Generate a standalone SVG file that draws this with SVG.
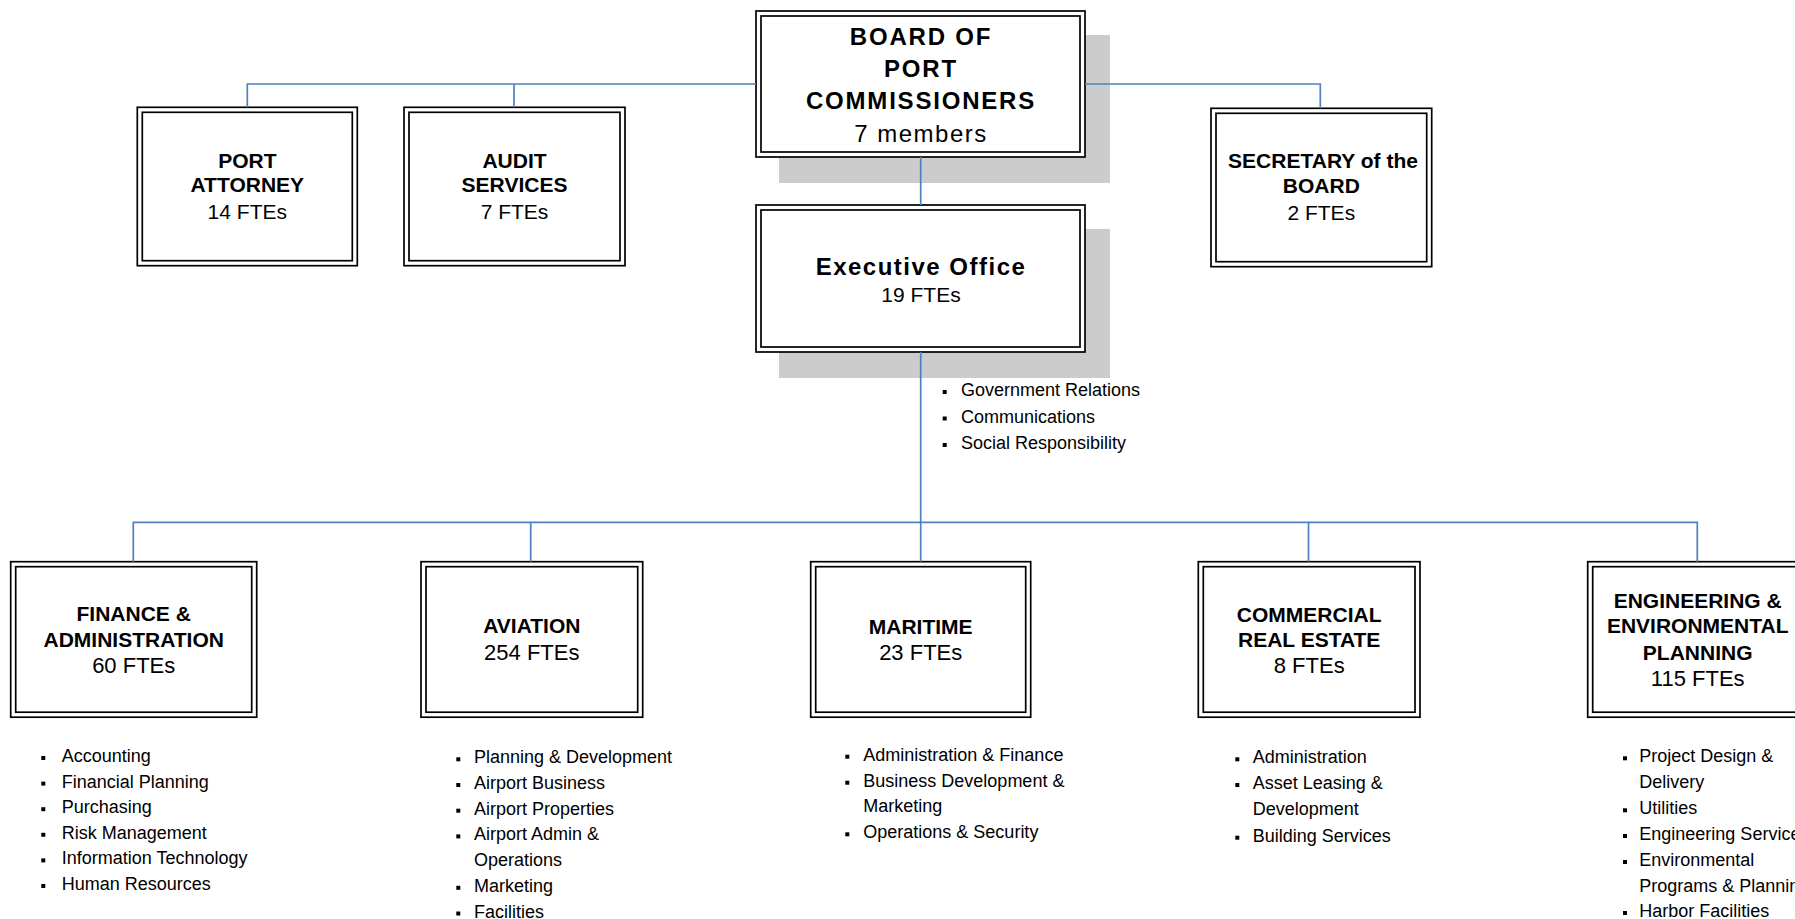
<svg xmlns="http://www.w3.org/2000/svg" width="1795" height="919" viewBox="0 0 1795 919">
<style>
.sh{fill:#cccccc}
.o{fill:#ffffff;stroke:#000;stroke-width:1.7}
.i{fill:none;stroke:#000;stroke-width:1.7}
.c{fill:none;stroke:#4f81bd;stroke-width:1.7}
text{font-family:"Liberation Sans",Arial,sans-serif;fill:#000}
.t{font-weight:bold;font-size:21px;text-anchor:middle}
.f{font-size:21px;text-anchor:middle}
.f2{font-size:22px;text-anchor:middle}
.bt{font-weight:bold;font-size:24px;text-anchor:middle;letter-spacing:1.8px}
.bf{font-size:24px;text-anchor:middle;letter-spacing:1.5px}
.l{font-size:18px}
.d{fill:#000}
</style>
<defs>
<rect id="dot" width="4" height="4" class="d"/>
</defs>
<g id="board">
<rect class="sh" x="779" y="35" width="331" height="148"/>
<rect class="o" x="756" y="11" width="329" height="146"/>
<rect class="i" x="761" y="16" width="319" height="136"/>
<text class="bt" x="921" y="45">BOARD OF</text>
<text class="bt" x="921" y="77">PORT</text>
<text class="bt" x="921" y="109">COMMISSIONERS</text>
<text class="bf" x="921" y="142">7 members</text>
</g>
<g id="executive">
<rect class="sh" x="779" y="229" width="331" height="149"/>
<rect class="o" x="756" y="205" width="329" height="147"/>
<rect class="i" x="761" y="210" width="319" height="137"/>
<text class="bt" x="921" y="275" style="letter-spacing:1.5px">Executive Office</text>
<text class="f" x="921" y="302">19 FTEs</text>
<use href="#dot" x="942.7" y="390"/>
<use href="#dot" x="942.7" y="416.5"/>
<use href="#dot" x="942.7" y="443"/>
<text class="l" x="961" y="396">Government Relations</text>
<text class="l" x="961" y="422.5">Communications</text>
<text class="l" x="961" y="449">Social Responsibility</text>
</g>
<g id="attorney">
<rect class="o" x="137.3" y="107.3" width="220" height="158.4"/>
<rect class="i" x="142.3" y="112.3" width="210" height="148.4"/>
<text class="t" x="247.3" y="167.7">PORT</text>
<text class="t" x="247.3" y="191.7">ATTORNEY</text>
<text class="f" x="247.3" y="219.3">14 FTEs</text>
</g>
<g id="audit">
<rect class="o" x="404" y="107.3" width="221" height="158.4"/>
<rect class="i" x="409" y="112.3" width="211" height="148.4"/>
<text class="t" x="514.5" y="167.7">AUDIT</text>
<text class="t" x="514.5" y="191.7">SERVICES</text>
<text class="f" x="514.5" y="219.3">7 FTEs</text>
</g>
<g id="secretary">
<rect class="o" x="1211" y="108.3" width="220.7" height="158.4"/>
<rect class="i" x="1216" y="113.3" width="210.7" height="148.4"/>
<text class="t" x="1323" y="168.3">SECRETARY of the</text>
<text class="t" x="1321.3" y="192.7">BOARD</text>
<text class="f" x="1321.3" y="220">2 FTEs</text>
</g>
<g id="finance">
<rect class="o" x="10.7" y="561.7" width="246" height="155.5"/>
<rect class="i" x="15.7" y="566.7" width="236" height="145.5"/>
<text class="t" x="133.7" y="620.7">FINANCE &amp;</text>
<text class="t" x="133.7" y="646.7">ADMINISTRATION</text>
<text class="f2" x="133.7" y="672.7">60 FTEs</text>
<use href="#dot" x="41.3" y="756"/>
<use href="#dot" x="41.3" y="781.6"/>
<use href="#dot" x="41.3" y="807.2"/>
<use href="#dot" x="41.3" y="832.8"/>
<use href="#dot" x="41.3" y="858.4"/>
<use href="#dot" x="41.3" y="884"/>
<text class="l" x="61.7" y="762">Accounting</text>
<text class="l" x="61.7" y="787.6">Financial Planning</text>
<text class="l" x="61.7" y="813.2">Purchasing</text>
<text class="l" x="61.7" y="838.8">Risk Management</text>
<text class="l" x="61.7" y="864.4">Information Technology</text>
<text class="l" x="61.7" y="890">Human Resources</text>
</g>
<g id="aviation">
<rect class="o" x="421" y="561.7" width="221.7" height="155.5"/>
<rect class="i" x="426" y="566.7" width="211.7" height="145.5"/>
<text class="t" x="531.8" y="633.3">AVIATION</text>
<text class="f2" x="531.8" y="660">254 FTEs</text>
<use href="#dot" x="456.3" y="757.3"/>
<use href="#dot" x="456.3" y="783"/>
<use href="#dot" x="456.3" y="808.7"/>
<use href="#dot" x="456.3" y="834.4"/>
<use href="#dot" x="456.3" y="885.8"/>
<use href="#dot" x="456.3" y="911.5"/>
<text class="l" x="474" y="763.3">Planning &amp; Development</text>
<text class="l" x="474" y="789">Airport Business</text>
<text class="l" x="474" y="814.7">Airport Properties</text>
<text class="l" x="474" y="840.4">Airport Admin &amp;</text>
<text class="l" x="474" y="866.1">Operations</text>
<text class="l" x="474" y="891.8">Marketing</text>
<text class="l" x="474" y="917.5">Facilities</text>
</g>
<g id="maritime">
<rect class="o" x="810.7" y="561.7" width="220" height="155.5"/>
<rect class="i" x="815.7" y="566.7" width="210" height="145.5"/>
<text class="t" x="920.7" y="634">MARITIME</text>
<text class="f2" x="920.7" y="660">23 FTEs</text>
<use href="#dot" x="845.3" y="754.7"/>
<use href="#dot" x="845.3" y="780.7"/>
<use href="#dot" x="845.3" y="832.3"/>
<text class="l" x="863.3" y="760.7">Administration &amp; Finance</text>
<text class="l" x="863.3" y="786.7">Business Development &amp;</text>
<text class="l" x="863.3" y="812.3">Marketing</text>
<text class="l" x="863.3" y="838.3">Operations &amp; Security</text>
</g>
<g id="commercial">
<rect class="o" x="1198.3" y="561.7" width="221.7" height="155.5"/>
<rect class="i" x="1203.3" y="566.7" width="211.7" height="145.5"/>
<text class="t" x="1309.2" y="621.7">COMMERCIAL</text>
<text class="t" x="1309.2" y="647.3">REAL ESTATE</text>
<text class="f2" x="1309.2" y="673.3">8 FTEs</text>
<use href="#dot" x="1235.3" y="757.3"/>
<use href="#dot" x="1235.3" y="783"/>
<use href="#dot" x="1235.3" y="835.7"/>
<text class="l" x="1252.7" y="763.3">Administration</text>
<text class="l" x="1252.7" y="789">Asset Leasing &amp;</text>
<text class="l" x="1252.7" y="815">Development</text>
<text class="l" x="1252.7" y="841.7">Building Services</text>
</g>
<g id="engineering">
<rect class="o" x="1587.7" y="561.7" width="220" height="155.5"/>
<rect class="i" x="1592.7" y="566.7" width="210" height="145.5"/>
<text class="t" x="1697.7" y="608.3">ENGINEERING &amp;</text>
<text class="t" x="1697.7" y="633.3">ENVIRONMENTAL</text>
<text class="t" x="1697.7" y="660">PLANNING</text>
<text class="f2" x="1697.7" y="686">115 FTEs</text>
<use href="#dot" x="1623" y="756.3"/>
<use href="#dot" x="1623" y="808.3"/>
<use href="#dot" x="1623" y="834"/>
<use href="#dot" x="1623" y="860"/>
<use href="#dot" x="1623" y="911"/>
<text class="l" x="1639.3" y="762.3">Project Design &amp;</text>
<text class="l" x="1639.3" y="788.3">Delivery</text>
<text class="l" x="1639.3" y="814.3">Utilities</text>
<text class="l" x="1639.3" y="840">Engineering Services</text>
<text class="l" x="1639.3" y="866">Environmental</text>
<text class="l" x="1639.3" y="892">Programs &amp; Planning</text>
<text class="l" x="1639.3" y="917">Harbor Facilities</text>
</g>
<g id="connectors">
<path class="c" d="M247.3,107.3 V84 H756"/>
<path class="c" d="M514,84 V107.3"/>
<path class="c" d="M1085,84 H1320.3 V108.3"/>
<path class="c" d="M920.7,157 V205"/>
<path class="c" d="M920.7,352 V561.7"/>
<path class="c" d="M133.3,561.7 V522.3 H1697.3 V561.7"/>
<path class="c" d="M530.7,522.3 V561.7"/>
<path class="c" d="M1308.5,522.3 V561.7"/>
</g>
</svg>
